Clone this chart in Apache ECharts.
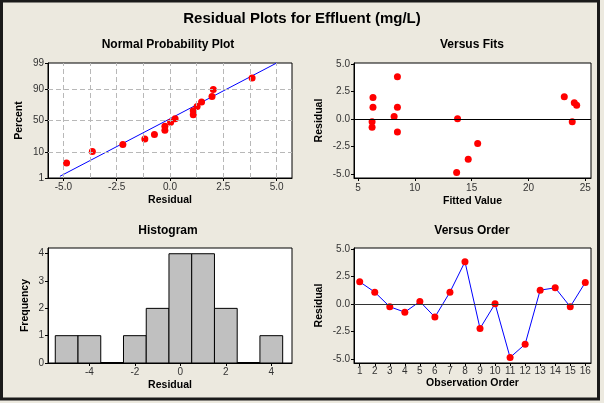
<!DOCTYPE html>
<html><head><meta charset="utf-8">
<script src="https://cdn.jsdelivr.net/npm/echarts@6/dist/echarts.min.js"></script>
<style>html,body{margin:0;padding:0;background:#f2f2f2;}#c{width:604px;height:403px;}</style>
</head><body><div id="c"></div>
<script>
// ---- data ----
const observationOrder = [1,2,3,4,5,6,7,8,9,10,11,12,13,14,15,16];
const residuals = [2.03,1.09,-0.24,-0.73,0.24,-1.18,1.09,3.85,-2.21,0.03,-4.85,-3.64,1.27,1.48,-0.24,1.97];
const fittedValues = [23.15,6.32,6.24,6.24,8.18,8.47,8.47,8.47,15.53,13.76,13.68,14.70,24.24,24.03,23.85,6.32];

const npResidual = [-4.85,-3.64,-2.21,-1.18,-0.73,-0.24,-0.24,0.03,0.24,1.09,1.09,1.27,1.48,1.97,2.03,3.85];
const npPercent = [4.3,10.4,16.5,22.6,28.7,34.8,40.9,47.0,53.0,59.1,65.2,71.3,77.4,83.5,89.6,95.7];
const npFitLineX = [-5.16, 5.0];
const npFitLinePct = [1.2, 99];

const histMid = [-5,-4,-3,-2,-1,0,1,2,3,4];
const histFreq = [1,1,0,1,2,4,4,2,0,1];

// tick labels
const npXTicks = [-5,-2.5,0,2.5,5];
const npXGrid = [-5,-3.75,-2.5,-1.25,0,1.25,2.5,3.75,5];
const npYTicks = [1,10,50,90,99];
const npYGrid = [10,50,90];
const residTicks = [-5,-2.5,0,2.5,5];
const fitsXTicks = [5,10,15,20,25];
const histXTicks = [-4,-2,0,2,4];
const histYTicks = [0,1,2,3,4];
const orderTicks = [1,2,3,4,5,6,7,8,9,10,11,12,13,14,15,16];

// ---- normal probability scale (inverse normal CDF) ----
function qnorm(p){
  const a=[-3.969683028665376e+01,2.209460984245205e+02,-2.759285104469687e+02,1.383577518672690e+02,-3.066479806614716e+01,2.506628277459239e+00];
  const b=[-5.447609879822406e+01,1.615858368580409e+02,-1.556989798598866e+02,6.680131188771972e+01,-1.328068155288572e+01];
  const c=[-7.784894002430293e-03,-3.223964580411365e-01,-2.400758277161838e+00,-2.549732539343734e+00,4.374664141464968e+00,2.938163982698783e+00];
  const d=[7.784695709041462e-03,3.224671290700398e-01,2.445134137142996e+00,3.754408661907416e+00];
  const pl=0.02425, ph=1-pl; let q,r;
  if(p<pl){q=Math.sqrt(-2*Math.log(p));return (((((c[0]*q+c[1])*q+c[2])*q+c[3])*q+c[4])*q+c[5])/((((d[0]*q+d[1])*q+d[2])*q+d[3])*q+1);}
  if(p<=ph){q=p-0.5;r=q*q;return (((((a[0]*r+a[1])*r+a[2])*r+a[3])*r+a[4])*r+a[5])*q/(((((b[0]*r+b[1])*r+b[2])*r+b[3])*r+b[4])*r+1);}
  q=Math.sqrt(-2*Math.log(1-p));return -(((((c[0]*q+c[1])*q+c[2])*q+c[3])*q+c[4])*q+c[5])/((((d[0]*q+d[1])*q+d[2])*q+d[3])*q+1);
}
const z = pct => qnorm(pct/100);
const npYTickZ = npYTicks.map(z);

const FONT = '"Liberation Sans", Arial, sans-serif';
const BG = '#ECE9DF';

function axisBase(extra){
  return Object.assign({
    type:'value',
    axisLine:{show:true,onZero:false,lineStyle:{color:'#000',width:1}},
    axisTick:{show:true,length:3,lineStyle:{color:'#000'}},
    axisLabel:{color:'#333',fontSize:10,fontFamily:FONT,margin:4},
    splitLine:{show:false},
    nameLocation:'middle',
    nameTextStyle:{fontWeight:'bold',fontSize:10.5,color:'#000',fontFamily:FONT}
  }, extra);
}
function withCustom(ax, vals, fmt){
  ax.axisLabel = Object.assign({}, ax.axisLabel, {customValues:vals, formatter:fmt});
  ax.axisTick = Object.assign({}, ax.axisTick, {customValues:vals});
  return ax;
}
const f1 = v => Number(v).toFixed(1);
const f0 = v => String(Math.round(v));

const grids = [
  {left:48, top:63, width:244, height:115},
  {left:354, top:63, width:237, height:115},
  {left:48, top:248, width:244, height:115},
  {left:354, top:248, width:237, height:115}
].map(g=>Object.assign(g,{show:true,backgroundColor:'#fff',borderColor:'#000',borderWidth:1,containLabel:false}));

const xAxes = [
  withCustom(axisBase({gridIndex:0,min:-5.72,max:5.72,name:'Residual',nameGap:17}), npXTicks, f1),
  withCustom(axisBase({gridIndex:1,min:4.65,max:25.5,name:'Fitted Value',nameGap:18,axisLabel:{color:'#333',fontSize:10,fontFamily:FONT,margin:5}}), fitsXTicks, f0),
  withCustom(axisBase({gridIndex:2,min:-5.82,max:4.91,name:'Residual',nameGap:17}), histXTicks, f0),
  withCustom(axisBase({gridIndex:3,min:0.62,max:16.38,name:'Observation Order',nameGap:15,axisLabel:{color:'#333',fontSize:10,fontFamily:FONT,margin:3}}), orderTicks, f0)
];
const yAxes = [
  withCustom(axisBase({gridIndex:0,min:z(1),max:z(99),name:'Percent',nameGap:23}), npYTickZ,
    v => { let best=0; npYTickZ.forEach((t,i)=>{ if(Math.abs(t-v)<Math.abs(npYTickZ[best]-v)) best=i; }); return String(npYTicks[best]); }),
  withCustom(axisBase({gridIndex:1,min:-5.35,max:5.1,name:'Residual',nameGap:29}), residTicks, f1),
  withCustom(axisBase({gridIndex:2,min:0,max:4.21,name:'Frequency',nameGap:17}), histYTicks, f0),
  withCustom(axisBase({gridIndex:3,min:-5.35,max:5.1,name:'Residual',nameGap:29}), residTicks, f1)
];

const dashed = {color:'#B8B8B8',type:[5,3],width:1};
const dot = {color:'#FF0000',opacity:1};
const series = [
  // normal plot grid lines
  {type:'line',xAxisIndex:0,yAxisIndex:0,data:[],z:1,silent:true,
   markLine:{silent:true,symbol:'none',label:{show:false},animation:false,lineStyle:dashed,
     data: npXGrid.map(v=>({xAxis:v})).concat(npYGrid.map(p=>({yAxis:z(p)})))}},
  {type:'line',xAxisIndex:0,yAxisIndex:0,z:2,symbol:'none',silent:true,
   lineStyle:{color:'#0000FF',width:1},
   data: npFitLineX.map((x,i)=>[x, z(npFitLinePct[i])])},
  {type:'scatter',xAxisIndex:0,yAxisIndex:0,z:3,symbolSize:7,itemStyle:dot,
   data: npResidual.map((x,i)=>[x, z(npPercent[i])])},
  // versus fits
  {type:'scatter',xAxisIndex:1,yAxisIndex:1,z:3,symbolSize:7,itemStyle:dot,
   data: fittedValues.map((x,i)=>[x, residuals[i]]),
   markLine:{silent:true,symbol:'none',label:{show:false},animation:false,lineStyle:{color:'#000',type:'solid',width:1},data:[{yAxis:0}]}},
  // histogram
  {type:'custom',xAxisIndex:2,yAxisIndex:2,z:2,
   data: histMid.map((m,i)=>[m,histFreq[i]]),
   encode:{x:0,y:1},
   renderItem:(params,api)=>{
     const x=api.value(0), f=api.value(1);
     const p0=api.coord([x-0.5,0]), p1=api.coord([x+0.5,f]);
     return {type:'rect',shape:{x:p0[0],y:p1[1],width:p1[0]-p0[0],height:p0[1]-p1[1]},
       style:{fill:'#C0C0C0',stroke:'#000',lineWidth:f===0?2:1}};
   }},
  // versus order
  {type:'line',xAxisIndex:3,yAxisIndex:3,z:3,symbol:'circle',symbolSize:7,showSymbol:true,
   itemStyle:dot,lineStyle:{color:'#0000FF',width:1},
   data: observationOrder.map((o,i)=>[o,residuals[i]]),
   markLine:{silent:true,symbol:'none',label:{show:false},animation:false,lineStyle:{color:'#333',type:'solid',width:1},data:[{yAxis:0}]}}
];

function txt(x,y,s,size){
  return {type:'text',x:x,y:y,silent:true,style:{text:s,fontSize:size,fontWeight:'bold',fontFamily:FONT,fill:'#000',align:'center',verticalAlign:'middle'}};
}
const graphic = [
  {type:'rect',silent:true,z:-10,shape:{x:1.5,y:1,width:597,height:398},style:{fill:'none',stroke:'#1a1a1a',lineWidth:3}},
  txt(302,19,'Residual Plots for Effluent (mg/L)',15),
  txt(168,45,'Normal Probability Plot',12),
  txt(472,45,'Versus Fits',12),
  txt(168,231,'Histogram',12),
  txt(472,231,'Versus Order',12)
];

const chart = echarts.init(document.getElementById('c'),null,{renderer:'canvas'});
chart.setOption({
  backgroundColor:BG,
  animation:false,
  textStyle:{fontFamily:FONT},
  grid:grids, xAxis:xAxes, yAxis:yAxes, series:series, graphic:graphic
});
</script></body></html>
